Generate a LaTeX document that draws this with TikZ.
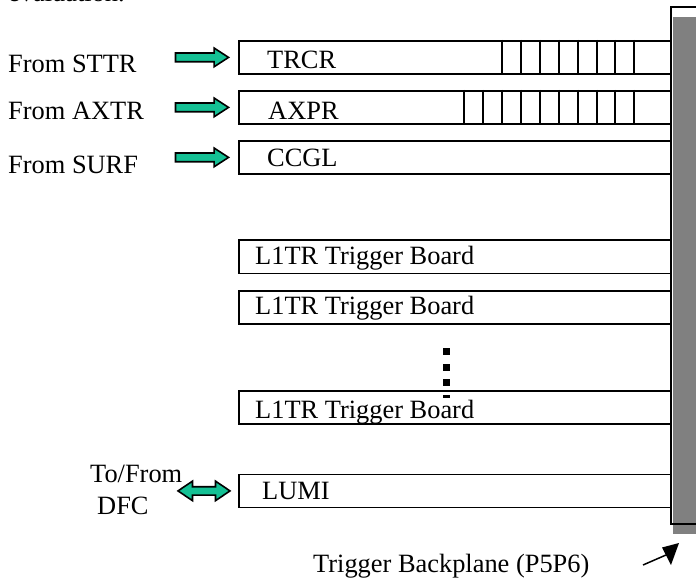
\documentclass[tikz,border=0pt]{standalone}
\usepackage{fontspec}
\setmainfont{Liberation Serif}
\usetikzlibrary{shapes.arrows,calc}
\definecolor{arrowgreen}{RGB}{20,192,148}
\definecolor{bpgray}{RGB}{128,128,128}
\tikzset{
 board/.style={draw, line width=1.8pt, anchor=north west, minimum width=432pt, minimum height=33pt, inner sep=0pt},
 lbl/.style={anchor=base west, inner sep=0pt, font=\fontsize{26.4}{30}\selectfont},
 fat/.style={single arrow, draw, line width=1.6pt, fill=arrowgreen, minimum height=53pt, inner xsep=0pt, inner ysep=3.6pt, single arrow head extend=5pt, single arrow tip angle=66, anchor=tip},
 fatboth/.style={double arrow, draw, line width=1.6pt, fill=arrowgreen, minimum height=52pt, inner xsep=0pt, inner ysep=3.4pt, double arrow head extend=5.6pt, double arrow tip angle=68},
 tickline/.style={line width=1.8pt},
 dotsq/.style={fill=black}
}
\begin{document}
\begin{tikzpicture}[x=1pt,y=-1pt]
\useasboundingbox (0,0) rectangle (696,588);
% backplane
\node[fill=bpgray, anchor=north west, minimum width=30pt, minimum height=517pt, inner sep=0pt] (bpshade) at (673,17) {};
\node[draw, line width=1.8pt, anchor=north west, minimum width=40pt, minimum height=517pt, inner sep=0pt] (bp) at (670,6) {};
% boards
\node[board] (trcr) at (238,40) {};
\node[board] (axpr) at (238,90) {};
\node[board] (ccgl) at (238,140) {};
\node[board] (l1a) at (238,239.5) {};
\node[board] (l1b) at (238,290) {};
\node[board] (l1c) at (238,390) {};
\node[board] (lumi) at (238,473.5) {};
% ticks
\foreach \x in {502,521,540,559,578,597,615,634}
  \draw[tickline] (\x,0 |- trcr.north) -- (\x,0 |- trcr.south);
\foreach \x in {464,483,502,521,540,559,578,597,615,634}
  \draw[tickline] (\x,0 |- axpr.north) -- (\x,0 |- axpr.south);
% board labels
\node[lbl] (ttrcr) at (267,69) {TRCR};
\node[lbl] (taxpr) at (268,119.3) {AXPR};
\node[lbl] (tccgl) at (267,167) {CCGL};
\node[lbl] (tl1a) at (255,264) {L1TR Trigger Board};
\node[lbl] (tl1b) at (255,314) {L1TR Trigger Board};
\node[lbl] (tl1c) at (255,418) {L1TR Trigger Board};
\node[lbl] (tlumi) at (262,499) {LUMI};
% left labels
\node[lbl] (top) at (8,2) {evaluation.};
\node[lbl] (fsttr) at (8,72.5) {From STTR};
\node[lbl] (faxtr) at (8,119.5) {From AXTR};
\node[lbl] (fsurf) at (8,173.3) {From SURF};
\node[lbl] (tofrom) at (90,482) {To/From};
\node[lbl] (dfc) at (97,514) {DFC};
% fat arrows
\node[fat] (a1) at ($(trcr.west)+(-8,0)$) {};
\node[fat] (a2) at ($(axpr.west)+(-8,0)$) {};
\node[fat] (a3) at ($(ccgl.west)+(-8,0)$) {};
\node[fatboth] (a4) at ($(lumi.west)+(-34,0)$) {};
% dots
\fill[dotsq] (443,348) rectangle (450,355);
\fill[dotsq] (443,363.5) rectangle (450,371);
\fill[dotsq] (443,379) rectangle (450,386);
\fill[dotsq] (443,395) rectangle (450,397.5);
% backplane caption and pointer
\node[lbl] (bpcap) at (313,572) {Trigger Backplane (P5P6)};
\coordinate (ptr0) at (643,565);
\coordinate (ptrb) at (666,555);
\coordinate (ptr1) at (679,543);
\draw[line width=1.5pt] (ptr0) -- (ptrb);
\fill (ptr1) -- (662,547.5) -- (671,565) -- cycle;
\end{tikzpicture}
\end{document}
